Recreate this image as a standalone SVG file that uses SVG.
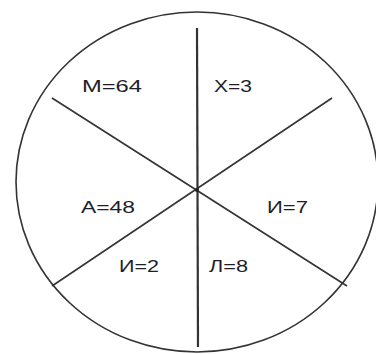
<svg xmlns="http://www.w3.org/2000/svg" width="376" height="354" viewBox="0 0 376 354">
<style>
.ln{stroke:#333;stroke-width:1.6;fill:none;stroke-linecap:butt}
.lbl{font-family:"Liberation Sans","DejaVu Sans",sans-serif;font-size:17px;fill:#1e1e2a}
</style>
<rect width="376" height="354" fill="#fff"/>
<g id="circle">
<ellipse cx="197" cy="182" rx="181" ry="170" class="ln"/>
</g>
<g id="connectors">
<line x1="197" y1="28" x2="198" y2="347" class="ln" style="stroke-width:2.2"/>
<line x1="52" y1="98" x2="347" y2="286" class="ln"/>
<line x1="332" y1="98" x2="52" y2="286" class="ln"/>
<circle cx="197" cy="190" r="2" fill="#222"/>
</g>
<g id="n-m"><text class="lbl" x="82" y="92" textLength="60" lengthAdjust="spacingAndGlyphs">М=64</text></g>
<g id="n-h"><text class="lbl" x="214" y="92" textLength="38" lengthAdjust="spacingAndGlyphs">Х=3</text></g>
<g id="n-a"><text class="lbl" x="81" y="213" textLength="54" lengthAdjust="spacingAndGlyphs">А=48</text></g>
<g id="n-i7"><text class="lbl" x="267" y="213" textLength="41" lengthAdjust="spacingAndGlyphs">И=7</text></g>
<g id="n-i2"><text class="lbl" x="119" y="272" textLength="40" lengthAdjust="spacingAndGlyphs">И=2</text></g>
<g id="n-l"><text class="lbl" x="209" y="272" textLength="39" lengthAdjust="spacingAndGlyphs">Л=8</text></g>
</svg>
